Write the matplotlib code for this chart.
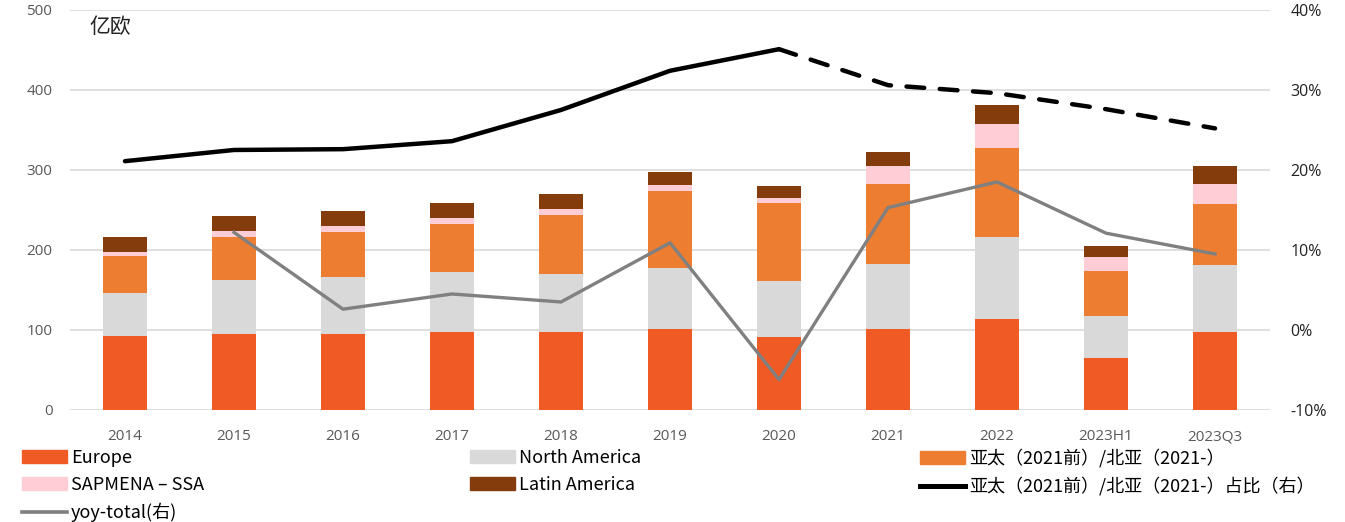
import matplotlib
matplotlib.use("Agg")
import matplotlib.pyplot as plt
import numpy as np
from matplotlib.lines import Line2D
from matplotlib.patches import Patch

plt.rcParams['font.family'] = ['Noto Sans CJK SC', 'DejaVu Sans']

categories = ["2014", "2015", "2016", "2017", "2018", "2019", "2020", "2021", "2022", "2023H1", "2023Q3"]
europe = [93, 95, 95, 98, 97, 101, 91, 101, 114, 65, 97]
north_america = [53, 67, 71, 74, 73, 77, 70, 82, 102, 53, 84]
apac = [46, 54, 56, 61, 74, 96, 98, 99, 112, 56, 76]
sapmena = [6, 8, 8, 7, 7, 7, 6, 23, 30, 17, 25]
latam = [18, 18, 19, 19, 19, 17, 15, 17, 23, 14, 23]
share = [21.1, 22.5, 22.6, 23.6, 27.5, 32.4, 35.1, 30.6, 29.6, 27.6, 25.2]
yoy = [np.nan, 12.2, 2.6, 4.5, 3.5, 10.9, -6.2, 15.3, 18.5, 12.1, 9.5]

series_names = ["Europe", "North America", "亚太（2021前）/北亚（2021-）", "SAPMENA – SSA", "Latin America"]
share_label = "亚太（2021前）/北亚（2021-）占比（右）"
yoy_label = "yoy-total(右)"
colors = ["#F05A24", "#D9D9D9", "#ED7D31", "#FFCDD5", "#843C0C"]

fig = plt.figure(figsize=(13.45, 5.22), dpi=100)
ax = fig.add_axes([0.0524, 0.2146, 0.8915, 0.7663])
ax2 = ax.twinx()

x = np.arange(len(categories))
bottom = np.zeros(len(categories))
for vals, c in zip([europe, north_america, apac, sapmena, latam], colors):
    ax.bar(x, vals, width=0.41, bottom=bottom, color=c, edgecolor='none', zorder=2)
    bottom += np.array(vals)

ax.set_xlim(-0.5, len(categories) - 0.5)
ax.set_ylim(0, 500)
ax.set_yticks(np.arange(0, 501, 100))
ax.grid(axis='y', color='#D9D9D9', linewidth=1.2, zorder=0)
ax.set_axisbelow(True)
for s in ax.spines.values():
    s.set_visible(False)
for s in ax2.spines.values():
    s.set_visible(False)
ax.tick_params(axis='both', length=0, colors='#595959', labelsize=11)
ax.tick_params(axis='y', pad=13)
ax.tick_params(axis='x', pad=14)
ax.set_xticks(x)
ax.set_xticklabels(categories, family=['Open Sans', 'DejaVu Sans'])
for lab in ax.get_yticklabels():
    lab.set_family(['Open Sans', 'DejaVu Sans'])

ax2.set_ylim(-10, 40)
ax2.set_yticks(np.arange(-10, 41, 10))
ax2.set_yticklabels([f"{v}%" for v in range(-10, 41, 10)], family=['Open Sans', 'DejaVu Sans'])
ax2.tick_params(axis='y', length=0, colors='#222222', labelsize=11.5, pad=15)

ax2.plot(x[:7], share[:7], color='black', linewidth=3.2, solid_capstyle='round', zorder=5)
ax2.plot(x[6:], share[6:], color='black', linewidth=3.2, linestyle=(0, (4, 3.5)), dash_capstyle='round', zorder=5)
ax2.plot(x, yoy, color='#808080', linewidth=2.4, zorder=4)

ax.text(0.016, 0.985, "亿欧", transform=ax.transAxes, fontsize=15, color='#222222', va='top', ha='left')

columns = [
    ([Patch(color=colors[0]), Patch(color=colors[3]), Line2D([], [], color='#808080', linewidth=2.6)],
     [series_names[0], series_names[3], yoy_label], 22),
    ([Patch(color=colors[1]), Patch(color=colors[4])],
     [series_names[1], series_names[4]], 470),
    ([Patch(color=colors[2]), Line2D([], [], color='black', linewidth=3.6)],
     [series_names[2], share_label], 920),
]
for hs, ls, px in columns:
    fig.legend(hs, ls, loc='upper left', bbox_to_anchor=(px / 1345, 1 - 449 / 522),
               frameon=False, fontsize=13, handlelength=2.5, handleheight=0.72,
               handletextpad=0.2, labelspacing=0.5, borderaxespad=0, borderpad=0)

fig.savefig("out.png", dpi=100)
